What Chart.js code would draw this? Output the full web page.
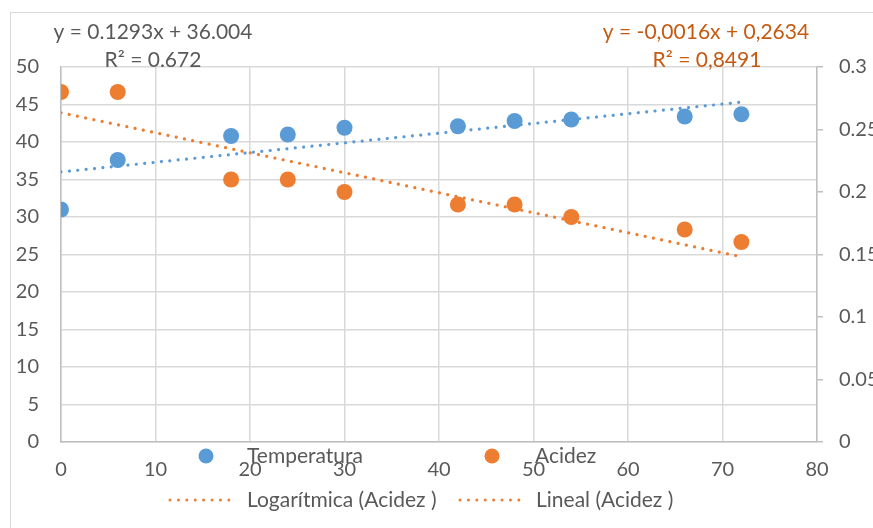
<!DOCTYPE html>
<html>
<head>
<meta charset="utf-8">
<script src="https://cdn.jsdelivr.net/npm/chart.js@4"></script>
<style>
html,body{margin:0;padding:0;background:#fff;}
#wrap{width:873px;height:528px;position:relative;}
</style>
</head>
<body>
<div id="wrap"><canvas id="c" width="873" height="528"></canvas></div>
<script>
// ---- data ----
const hours = [0, 6, 18, 24, 30, 42, 48, 54, 66, 72];
const temperatura = [31.0, 37.6, 40.8, 41.0, 41.9, 42.1, 42.8, 43.0, 43.4, 43.7];
const acidez = [0.28, 0.28, 0.21, 0.21, 0.20, 0.19, 0.19, 0.18, 0.17, 0.16];
const trendX = [0, 72];
const trendTemp = [36.004, 45.314];
const trendAcidez = [0.2634, 0.1482];
const seriesNames = ['Temperatura', 'Acidez', 'Logarítmica (Acidez )', 'Lineal (Acidez )'];
const eqTemp = ['y = 0.1293x + 36.004', 'R² = 0.672'];
const eqAcidez = ['y = -0,0016x + 0,2634', 'R² = 0,8491'];
const xTickLabels = ['0', '10', '20', '30', '40', '50', '60', '70', '80'];
const leftTickLabels = ['0', '5', '10', '15', '20', '25', '30', '35', '40', '45', '50'];
const rightTickLabels = ['0', '0.05', '0.1', '0.15', '0.2', '0.25', '0.3'];

const BLUE = '#5B9BD5', ORANGE = '#ED7D31';
const FONT = 'Lato, "Noto Sans", sans-serif';
const TXT = '#595959';

const pts = (xs, ys) => xs.map((x, i) => ({x: x, y: ys[i]}));

const dotted = {borderWidth: 3.2, borderDash: [0.01, 8.4], borderCapStyle: 'round', pointRadius: 0, showLine: true, fill: false};

const decor = {
  id: 'decor',
  beforeDraw(chart) {
    const ctx = chart.ctx;
    ctx.save();
    ctx.fillStyle = '#fff';
    ctx.fillRect(0, 0, chart.width, chart.height);
    ctx.strokeStyle = '#d9d9d9';
    ctx.lineWidth = 1;
    ctx.strokeRect(10.5, 12.5, 1000, 1000);
    ctx.restore();
  },
  afterDraw(chart) {
    const ctx = chart.ctx;
    ctx.save();
    ctx.font = '21px ' + FONT;
    ctx.textBaseline = 'middle';
    ctx.textAlign = 'center';
    ctx.fillStyle = TXT;
    ctx.fillText(eqTemp[0], 153, 32);
    ctx.fillText(eqTemp[1], 153, 60);
    ctx.fillStyle = '#C55A11';
    ctx.fillText(eqAcidez[0], 706, 32);
    ctx.fillText(eqAcidez[1], 707, 60);
    // legend
    ctx.textAlign = 'left';
    ctx.fillStyle = BLUE;
    ctx.beginPath(); ctx.arc(206, 456, 7.5, 0, Math.PI * 2); ctx.fill();
    ctx.fillStyle = ORANGE;
    ctx.beginPath(); ctx.arc(492, 456, 7.5, 0, Math.PI * 2); ctx.fill();
    ctx.fillStyle = TXT;
    ctx.fillText(seriesNames[0], 247, 456);
    ctx.fillText(seriesNames[1], 535, 456);
    ctx.fillText(seriesNames[2], 247, 500);
    ctx.fillText(seriesNames[3], 536, 500);
    ctx.strokeStyle = ORANGE;
    ctx.lineWidth = 3;
    ctx.lineCap = 'round';
    ctx.setLineDash([0.01, 8.4]);
    ctx.beginPath(); ctx.moveTo(170, 500); ctx.lineTo(232, 500); ctx.stroke();
    ctx.beginPath(); ctx.moveTo(460, 500); ctx.lineTo(522, 500); ctx.stroke();
    ctx.restore();
  }
};

const tickFont = {family: FONT, size: 20};

new Chart(document.getElementById('c'), {
  type: 'scatter',
  data: {
    datasets: [
      {label: seriesNames[0], data: pts(hours, temperatura), yAxisID: 'y', backgroundColor: BLUE, borderWidth: 0, pointRadius: 8, order: 2},
      {label: seriesNames[1], data: pts(hours, acidez), yAxisID: 'y1', backgroundColor: ORANGE, borderWidth: 0, pointRadius: 8, order: 2},
      Object.assign({label: 'Lineal (Temperatura)', data: pts(trendX, trendTemp), yAxisID: 'y', borderColor: BLUE, order: 1}, dotted),
      Object.assign({label: seriesNames[2], data: [], yAxisID: 'y1', borderColor: ORANGE, order: 1}, dotted),
      Object.assign({label: seriesNames[3], data: pts(trendX, trendAcidez), yAxisID: 'y1', borderColor: ORANGE, order: 1}, dotted)
    ]
  },
  options: {
    responsive: false,
    animation: false,
    layout: {padding: {top: 67, left: 0, right: 0, bottom: 0}},
    plugins: {legend: {display: false}, tooltip: {enabled: false}},
    scales: {
      x: {
        type: 'linear', min: 0, max: 80,
        ticks: {stepSize: 10, color: TXT, font: tickFont, padding: 16,
          callback: (v, i) => xTickLabels[i]},
        grid: {color: '#d9d9d9', lineWidth: 1.5, drawTicks: false},
        border: {color: '#bfbfbf', width: 1.5},
        afterFit: s => { s.height = 86; }
      },
      y: {
        position: 'left', min: 0, max: 50,
        ticks: {stepSize: 5, color: TXT, font: tickFont, padding: 22,
          callback: (v, i) => leftTickLabels[i]},
        grid: {color: '#d9d9d9', lineWidth: 1.5, drawTicks: false},
        border: {color: '#bfbfbf', width: 1.5},
        afterFit: s => { s.width = 61; }
      },
      y1: {
        position: 'right', min: 0, max: 0.3,
        ticks: {stepSize: 0.05, color: TXT, font: tickFont, padding: 16,
          callback: (v, i) => rightTickLabels[i]},
        grid: {drawOnChartArea: false, color: '#bfbfbf', lineWidth: 1.5, tickLength: 6},
        border: {color: '#bfbfbf', width: 1.5},
        afterFit: s => { s.width = 56; }
      }
    }
  },
  plugins: [decor]
});
</script>
</body>
</html>
